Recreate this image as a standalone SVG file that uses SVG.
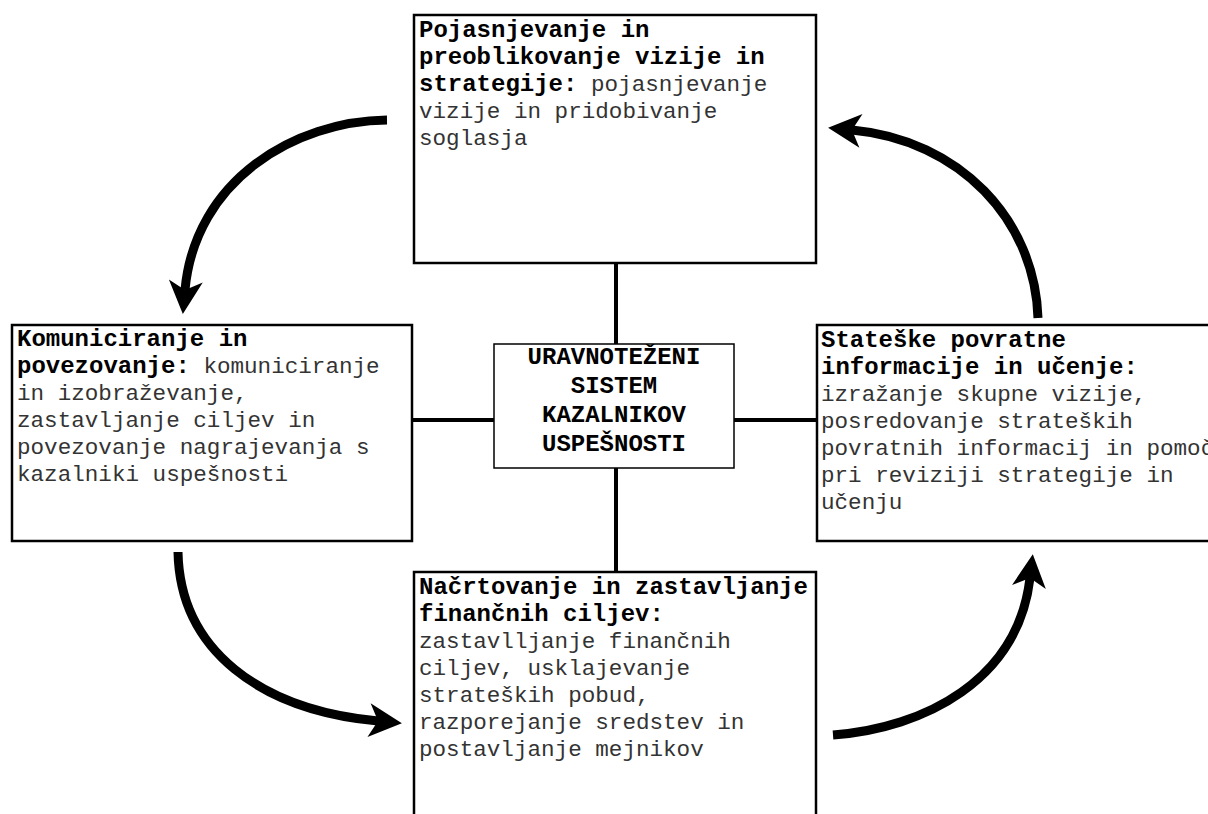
<svg xmlns="http://www.w3.org/2000/svg" width="1208" height="814" viewBox="0 0 1208 814">
<style>
.box{fill:#fff;stroke:#000;stroke-width:2.5}
.cbox{fill:#fff;stroke:#000;stroke-width:1.5}
.b{font-family:"Liberation Mono","Courier New",monospace;font-weight:bold;font-size:24px;fill:#000}
.r{font-family:"Liberation Mono","Courier New",monospace;font-weight:normal;font-size:22.6px;fill:#333}
.conn{stroke:#000;stroke-width:4;fill:none}
.arc{stroke:#000;stroke-width:9;fill:none;marker-end:url(#ah)}
</style>
<defs>
<marker id="ah" markerUnits="userSpaceOnUse" markerWidth="50" markerHeight="50" viewBox="-15 -25 50 50" refX="0" refY="0" orient="auto">
<path d="M24,0 L-9,-17 L0,0 L-9,17 Z" fill="#000"/>
</marker>
</defs>
<rect width="1208" height="814" fill="#fff"/>
<g id="connectors">
<line class="conn" x1="616" y1="263" x2="616" y2="344"/>
<line class="conn" x1="412" y1="420" x2="494" y2="420"/>
<line class="conn" x1="734" y1="420" x2="817" y2="420"/>
<line class="conn" x1="616" y1="468" x2="616" y2="572"/>
<path class="arc" d="M387,120 C295,121 195,180 185,290"/>
<path class="arc" d="M1038,318 C1035,220 960,140 852,130"/>
<path class="arc" d="M178,552 C180,650 260,710 378,721"/>
<path class="arc" d="M833,735 C925,728 1018,680 1030,578"/>
</g>
<g id="top">
<rect class="box" x="414" y="15" width="402" height="248"/>
<text class="b" x="419" y="37">Pojasnjevanje in</text>
<text class="b" x="419" y="64">preoblikovanje vizije in</text>
<text x="419" y="91"><tspan class="b">strategije:</tspan><tspan class="r"> pojasnjevanje</tspan></text>
<text class="r" x="419" y="118">vizije in pridobivanje</text>
<text class="r" x="419" y="145">soglasja</text>
</g>
<g id="left">
<rect class="box" x="12" y="325" width="400" height="216"/>
<text class="b" x="17" y="346">Komuniciranje in</text>
<text x="17" y="373"><tspan class="b">povezovanje:</tspan><tspan class="r"> komuniciranje</tspan></text>
<text class="r" x="17" y="400">in izobraževanje,</text>
<text class="r" x="17" y="427">zastavljanje ciljev in</text>
<text class="r" x="17" y="454">povezovanje nagrajevanja s</text>
<text class="r" x="17" y="481">kazalniki uspešnosti</text>
</g>
<g id="center">
<rect class="cbox" x="494" y="344" width="240" height="124"/>
<text class="b" x="614" y="364" text-anchor="middle">URAVNOTEŽENI</text>
<text class="b" x="614" y="393" text-anchor="middle">SISTEM</text>
<text class="b" x="614" y="422" text-anchor="middle">KAZALNIKOV</text>
<text class="b" x="614" y="451" text-anchor="middle">USPEŠNOSTI</text>
</g>
<g id="right">
<rect class="box" x="817" y="325" width="400" height="216"/>
<text class="b" x="821" y="347">Stateške povratne</text>
<text class="b" x="821" y="374">informacije in učenje:</text>
<text class="r" x="821" y="401">izražanje skupne vizije,</text>
<text class="r" x="821" y="428">posredovanje strateških</text>
<text class="r" x="821" y="455">povratnih informacij in pomoč</text>
<text class="r" x="821" y="482">pri reviziji strategije in</text>
<text class="r" x="821" y="509">učenju</text>
</g>
<g id="bottom">
<rect class="box" x="414" y="572" width="402" height="260"/>
<text class="b" x="419" y="594">Načrtovanje in zastavljanje</text>
<text class="b" x="419" y="621">finančnih ciljev:</text>
<text class="r" x="419" y="648">zastavlljanje finančnih</text>
<text class="r" x="419" y="675">ciljev, usklajevanje</text>
<text class="r" x="419" y="702">strateških pobud,</text>
<text class="r" x="419" y="729">razporejanje sredstev in</text>
<text class="r" x="419" y="756">postavljanje mejnikov</text>
</g>
</svg>
